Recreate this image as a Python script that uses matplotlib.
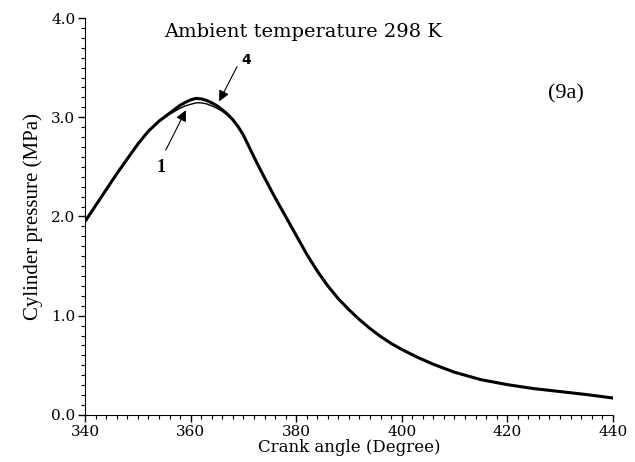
import matplotlib
matplotlib.use("Agg")
import matplotlib.pyplot as plt
from matplotlib.ticker import MultipleLocator, FormatStrFormatter

# crank angle (degree) and cylinder pressure (MPa)
angle = [340, 342, 344, 346, 348, 350, 352, 354, 356, 357, 358, 359, 360, 361,
         362, 363, 364, 365, 366, 367, 368, 369, 370, 371, 372, 374, 376, 378,
         380, 382, 384, 386, 388, 390, 392, 394, 396, 398, 400, 403, 406, 410,
         415, 420, 425, 430, 435, 440]
p_case4 = [1.95, 2.11, 2.27, 2.43, 2.58, 2.73, 2.86, 2.96, 3.04, 3.08, 3.12, 3.15,
           3.175, 3.19, 3.185, 3.17, 3.145, 3.115, 3.075, 3.03, 2.975, 2.905, 2.82,
           2.71, 2.60, 2.39, 2.19, 2.00, 1.81, 1.62, 1.45, 1.30, 1.17, 1.06, 0.96,
           0.87, 0.79, 0.72, 0.66, 0.58, 0.51, 0.43, 0.355, 0.305, 0.265, 0.235,
           0.205, 0.17]
p_case1 = [1.95, 2.11, 2.27, 2.43, 2.58, 2.73, 2.86, 2.96, 3.03, 3.06, 3.09, 3.115,
           3.13, 3.145, 3.145, 3.135, 3.115, 3.09, 3.06, 3.02, 2.97, 2.905, 2.82,
           2.71, 2.60, 2.39, 2.19, 2.00, 1.81, 1.62, 1.45, 1.30, 1.17, 1.06, 0.96,
           0.87, 0.79, 0.72, 0.66, 0.58, 0.51, 0.43, 0.355, 0.305, 0.265, 0.235,
           0.205, 0.17]

title = "Ambient temperature 298 K"
xlabel = "Crank angle (Degree)"
ylabel = "Cylinder pressure (MPa)"

fig = plt.figure(figsize=(6.35, 4.62), dpi=100)
ax = fig.add_axes([0.134, 0.102, 0.831, 0.859])

ax.plot(angle, p_case1, color="black", lw=1.0, solid_joinstyle="round")
ax.plot(angle, p_case4, color="black", lw=2.2, solid_joinstyle="round",
        solid_capstyle="round")

ax.set_xlim(340, 440)
ax.set_ylim(0, 4.0)
ax.spines["top"].set_visible(False)
ax.spines["right"].set_visible(False)
ax.xaxis.set_major_locator(MultipleLocator(20))
ax.xaxis.set_minor_locator(MultipleLocator(2))
ax.yaxis.set_major_locator(MultipleLocator(1.0))
ax.yaxis.set_minor_locator(MultipleLocator(0.1))
ax.yaxis.set_major_formatter(FormatStrFormatter("%.1f"))
ax.tick_params(which="major", length=5, width=1.0, labelsize=11, pad=2)
ax.tick_params(which="minor", length=3, width=0.8)
for lab in ax.get_xticklabels() + ax.get_yticklabels():
    lab.set_fontfamily("DejaVu Serif")

ax.set_xlabel(xlabel, fontfamily="DejaVu Serif", fontsize=12, labelpad=0)
ax.set_ylabel(ylabel, fontfamily="Liberation Serif", fontsize=15, labelpad=6)

ax.text(0.413, 0.965, title, transform=ax.transAxes, ha="center", va="center",
        fontfamily="DejaVu Serif", fontsize=14)
ax.text(0.945, 0.809, "(9a)", transform=ax.transAxes, ha="right", va="center",
        fontfamily="Liberation Serif", fontsize=16)

arrow = dict(arrowstyle="-|>", color="black", lw=0.8, mutation_scale=16,
             shrinkA=0, shrinkB=0)
ax.annotate("", xy=(359.1, 3.07), xytext=(355.3, 2.67), arrowprops=arrow)
ax.text(354.4, 2.49, "1", ha="center", va="center", fontfamily="Liberation Serif",
        fontsize=13, fontweight="bold")
ax.annotate("", xy=(365.4, 3.16), xytext=(368.8, 3.51), arrowprops=arrow)
ax.text(370.6, 3.58, "4", ha="center", va="center", fontfamily="DejaVu Sans",
        fontsize=10, fontweight="bold")

fig.savefig("out.png", dpi=100)
